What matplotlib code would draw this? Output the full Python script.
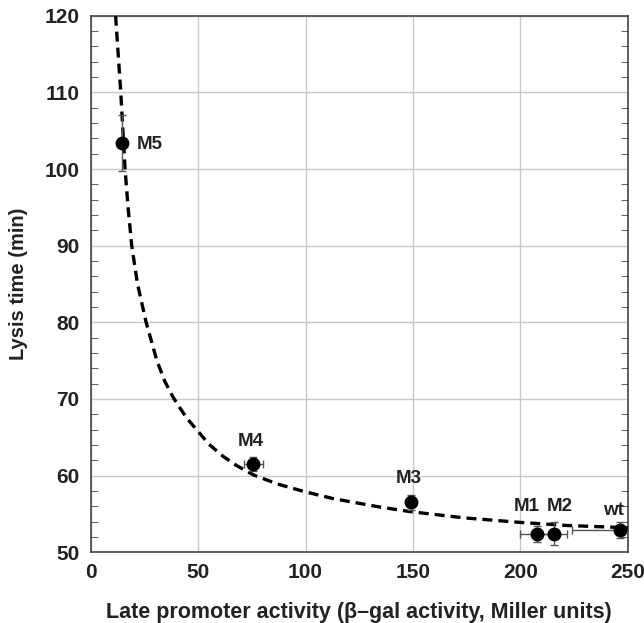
import matplotlib
matplotlib.use('Agg')
import matplotlib.pyplot as plt
from matplotlib.ticker import MultipleLocator

plt.rcParams['font.family'] = ['Liberation Sans', 'DejaVu Sans']
plt.rcParams['font.weight'] = 'bold'

# measured strains
strains = ['M5', 'M4', 'M3', 'M1', 'M2', 'wt']
activity = [14.5, 75.7, 149.0, 207.8, 215.5, 246.5]
lysis_time = [103.4, 61.5, 56.5, 52.4, 52.4, 52.9]
activity_err = [0.0, 4.5, 0.0, 8.0, 6.0, 22.5]
lysis_err = [3.6, 0.9, 1.0, 1.0, 1.5, 1.0]

# label positions (x, y)
label_x = [21.4, 74.6, 148.0, 202.9, 218.4, 243.2]
label_y = [103.2, 64.5, 59.6, 56.0, 56.0, 55.5]
label_ha = ['left', 'center', 'center', 'center', 'center', 'center']

# dashed fit curve
curve_x = [11.6, 12.8, 14.0, 15.0, 16.0, 17.4, 19.1, 21.8, 25.8, 30.8,
           34.5, 38.2, 41.6, 45.0, 49.3, 55.0, 61.7, 68.0, 75.7, 87.0, 99.7,
           112.9, 134.6, 148.9, 173.4, 199.8, 221.5, 250.0]
curve_y = [120.0, 115.0, 110.0, 105.0, 100.0, 95.0, 90.0, 85.0, 80.0, 75.0,
           72.3, 70.3, 68.8, 67.4, 66.0, 64.1, 62.5, 61.3, 60.1, 58.9, 57.9,
           57.0, 55.9, 55.3, 54.5, 53.9, 53.5, 53.2]

fig = plt.figure(figsize=(6.44, 6.23), dpi=100)
ax = fig.add_axes([0.1408, 0.1135, 0.8342, 0.8613])

ax.plot(curve_x, curve_y, color='black', linewidth=2.4, dashes=(3, 1.8),
        solid_joinstyle='round', zorder=3)

ax.errorbar(activity, lysis_time, xerr=activity_err, yerr=lysis_err,
            fmt='o', color='black', markersize=9, ecolor='#555555',
            elinewidth=1.0, capsize=3, capthick=1.0, zorder=4)

for name, lx, ly, ha in zip(strains, label_x, label_y, label_ha):
    ax.text(lx, ly, name, ha=ha, va='center', fontsize=13.5,
            fontweight='bold', color='#222222')

ax.set_xlim(0, 250)
ax.set_ylim(50, 120)
ax.xaxis.set_major_locator(MultipleLocator(50))
ax.yaxis.set_major_locator(MultipleLocator(10))
ax.yaxis.set_minor_locator(MultipleLocator(2))
ax.grid(True, which='major', color='#c8c8c8', linewidth=1.0)
ax.set_axisbelow(True)

ax.tick_params(axis='both', which='major', direction='in', length=0,
               labelsize=15, labelcolor='#222222', pad=8)
ax.tick_params(axis='y', which='minor', direction='in', length=5,
               left=True, right=True, color='#444444')
ax.tick_params(axis='y', which='major', right=True)

for sp in ax.spines.values():
    sp.set_color('#444444')
    sp.set_linewidth(1.2)

ax.set_xlabel('Late promoter activity (\u03b2\u2013gal activity, Miller units)',
              fontsize=15.5, fontweight='bold', color='#222222', labelpad=14)
ax.set_ylabel('Lysis time (min)', fontsize=14.5, fontweight='bold',
              color='#222222', labelpad=12)

fig.savefig('out.png', dpi=100)
